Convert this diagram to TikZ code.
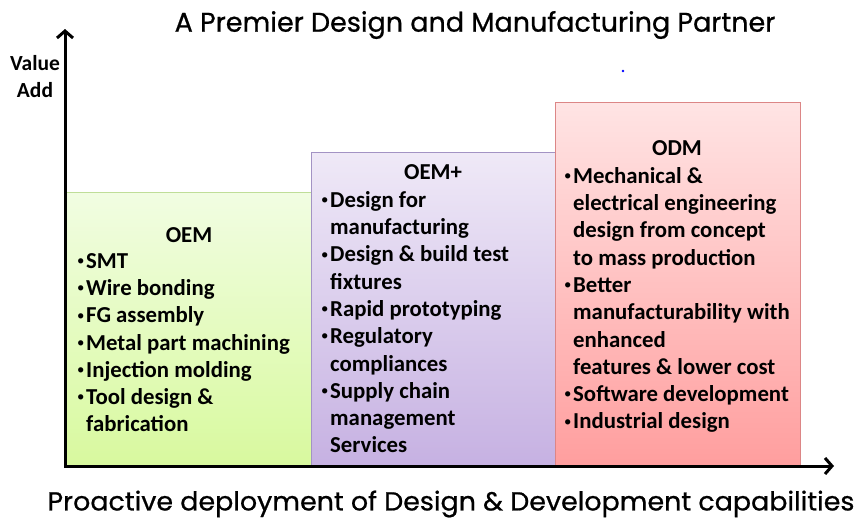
\documentclass[tikz,border=0pt]{standalone}
\usepackage{fontspec}
\setmainfont{Carlito}
\newfontfamily\headfont{Poppins}[FakeBold=0.7]
\usetikzlibrary{arrows.meta}

\definecolor{oemtop}{HTML}{F1FDE2}
\definecolor{oembot}{HTML}{D8F99E}
\definecolor{oemline}{HTML}{BFDE98}
\definecolor{plustop}{HTML}{EFE9F7}
\definecolor{plusbot}{HTML}{C6B1E2}
\definecolor{plusline}{HTML}{A393C4}
\definecolor{odmtop}{HTML}{FFE4E4}
\definecolor{odmbot}{HTML}{FF9E9E}
\definecolor{odmline}{HTML}{DC8686}

% bullet and the indent of a wrapped line
\newcommand{\bul}{\makebox[9pt][l]{\raisebox{0.12em}{\mdseries\scalebox{0.65}{\textbullet}}}}
\newcommand{\bulgap}{\hspace*{9pt}}

\begin{document}
\begin{tikzpicture}[
   x=1pt,y=-1pt,
   stage/.style={rectangle,anchor=south west,inner sep=0pt,line width=1pt},
   head/.style={font=\bfseries\fontsize{22.8}{26}\selectfont,inner sep=0pt,anchor=base},
   items/.style={font=\bfseries\fontsize{22.8}{27.3}\selectfont,align=left,inner sep=0pt,anchor=north west},
   axis/.style={line width=3pt,{Straight Barb[length=7pt,width=16pt]}-{Straight Barb[length=7pt,width=16pt]}}
 ]
  \useasboundingbox (0,0) rectangle (860,520);

  \node[font=\headfont\fontsize{27}{30}\selectfont] (title) at (475,25) {A Premier Design and Manufacturing Partner};
  \node[font=\bfseries\fontsize{21.5}{27}\selectfont,align=center] (yname) at (35,77) {Value\\Add};
  \node[circle,fill=blue,inner sep=0pt,minimum size=2.6pt] (dot) at (623,71) {};

  % the three stages
  \node[stage,draw=oemline,top color=oemtop,bottom color=oembot,minimum width=246pt,minimum height=274pt] (oem) at (65,467) {};
  \node[stage,draw=plusline,top color=plustop,bottom color=plusbot,minimum width=244pt,minimum height=314pt] (plus) at (311,467) {};
  \node[stage,draw=odmline,top color=odmtop,bottom color=odmbot,minimum width=245pt,minimum height=364pt] (odm) at (555,467) {};

  \node[head] (oemhead) at (189,242) {OEM};
  \node[items] (oemlist) at (77,253) {\bul SMT\\ \bul Wire bonding\\ \bul FG assembly\\ \bul Metal part machining\\
    \bul Injection molding\\ \bul Tool design \&\\ \bulgap fabrication};

  \node[head] (plushead) at (433,179) {OEM+};
  \node[items] (pluslist) at (321,191) {\bul Design for\\ \bulgap manufacturing\\ \bul Design \& build test\\ \bulgap fixtures\\
    \bul Rapid prototyping\\ \bul Regulatory\\ \bulgap compliances\\ \bul Supply chain\\ \bulgap management\\ \bulgap Services};

  \node[head] (odmhead) at (677,155) {ODM};
  \node[items] (odmlist) at (564,167) {\bul Mechanical \&\\ \bulgap electrical engineering\\ \bulgap design from concept\\
    \bulgap to mass production\\ \bul Better\\ \bulgap manufacturability with\\ \bulgap enhanced\\ \bulgap features \& lower cost\\
    \bul Software development\\ \bul Industrial design};

  % axes
  \coordinate (origin) at (65,466);
  \coordinate (ytop) at (65,29);
  \coordinate (xend) at (834,466);
  \draw[axis] (ytop) -- (origin) -- (xend);

  \node[font=\headfont\fontsize{26}{30}\selectfont] (xname) at (451,504) {\scalebox{1.035}[1]{Proactive deployment of Design \& Development capabilities}};
 \end{tikzpicture}
\end{document}
